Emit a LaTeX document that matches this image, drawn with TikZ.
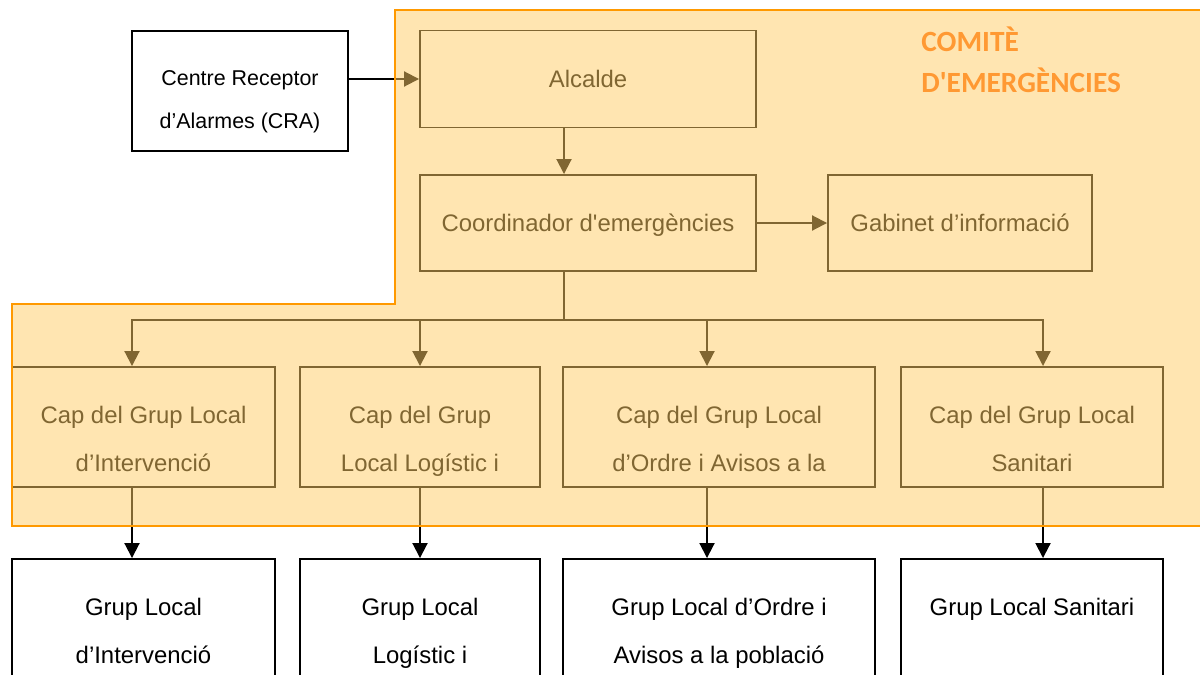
\documentclass[tikz,border=0pt]{standalone}
\usepackage{fontspec}
\setmainfont{Liberation Sans}
\newfontfamily\titlefont{Carlito}
\usetikzlibrary{positioning,calc,arrows.meta}
\definecolor{comfill}{RGB}{255,204,100}
\definecolor{comline}{RGB}{255,153,0}
\definecolor{comtext}{RGB}{255,153,51}

\begin{document}
\begin{tikzpicture}
    \tikzstyle{box}=[rectangle, draw, line width=1.1pt, inner sep=0pt, minimum height=2.4cm]
    \tikzstyle{txt}=[inner sep=0pt, align=center, font=\fontsize{13.6}{27.3}\selectfont]
    \tikzstyle{arr}=[line width=1.1pt, -{Triangle[length=0.3cm,width=0.3cm]}]

    \useasboundingbox (0,0) rectangle (24,-13.48);

    % top part
    \node[box, minimum width=4.32cm] (cra) at (4.8,-1.82) {};
    \node[box, minimum width=6.72cm, minimum height=1.94cm] (alc) at (11.76,-1.58) {};
    \node[box, minimum width=6.72cm, minimum height=1.92cm] (coord) at (11.76,-4.46) {};
    \node[box, minimum width=5.28cm, minimum height=1.92cm] (gab) at (19.2,-4.46) {};

    \node[txt, font=\fontsize{12.2}{24.5}\selectfont, below=0.8cm of cra.north] (tcra) {Centre Receptor\\d’Alarmes (CRA)};
    \node[txt, below=0.8cm of alc.north] (talc) {Alcalde};
    \node[txt, below=0.8cm of coord.north] (tcoord) {Coordinador d\textquotesingle emergències};
    \node[txt, below=0.8cm of gab.north] (tgab) {Gabinet d’informació};

    % caps
    \node[box, minimum width=5.26cm] (cap1) at (2.87,-8.54) {};
    \node[box, minimum width=4.8cm] (cap2) at (8.4,-8.54) {};
    \node[box, minimum width=6.24cm] (cap3) at (14.38,-8.54) {};
    \node[box, minimum width=5.24cm] (cap4) at (20.64,-8.54) {};

    \node[txt, below=0.79cm of cap1.north] (tcap1) {Cap del Grup Local\\d’Intervenció};
    \node[txt, below=0.79cm of cap2.north] (tcap2) {Cap del Grup\\Local Logístic i};
    \node[txt, below=0.79cm of cap3.north] (tcap3) {Cap del Grup Local\\d’Ordre i Avisos a la};
    \node[txt, below=0.79cm of cap4.north] (tcap4) {Cap del Grup Local\\Sanitari};

    % grups
    \node[box, minimum width=5.26cm] (grp1) at (2.87,-12.38) {};
    \node[box, minimum width=4.8cm] (grp2) at (8.4,-12.38) {};
    \node[box, minimum width=6.24cm] (grp3) at (14.38,-12.38) {};
    \node[box, minimum width=5.24cm] (grp4) at (20.64,-12.38) {};

    \node[txt, below=0.79cm of grp1.north] (tgrp1) {Grup Local\\d’Intervenció};
    \node[txt, below=0.79cm of grp2.north] (tgrp2) {Grup Local\\Logístic i};
    \node[txt, below=0.79cm of grp3.north] (tgrp3) {Grup Local d’Ordre i\\Avisos a la població};
    \node[txt, below=0.79cm of grp4.north] (tgrp4) {Grup Local Sanitari};

    % connectors
    \coordinate (bus) at (11.28,-6.4);
    \draw[arr] (alc.west -| cra.east) -- (alc.west);
    \draw[arr] ([xshift=-0.48cm]alc.south) -- ([xshift=-0.48cm]coord.north);
    \draw[arr] (coord.east) -- (gab.west);
    \draw[line width=1.1pt] ([xshift=-0.48cm]coord.south) -- (bus);
    \draw[arr] (bus) -| ([xshift=-0.23cm]cap1.north);
    \draw[arr] (bus) -| (cap2.north);
    \draw[arr] (bus) -| ([xshift=-0.24cm]cap3.north);
    \draw[arr] (bus) -| ([xshift=0.22cm]cap4.north);
    \draw[arr] ([xshift=-0.23cm]cap1.south) -- ([xshift=-0.23cm]grp1.north);
    \draw[arr] (cap2.south) -- (grp2.north);
    \draw[arr] ([xshift=-0.24cm]cap3.south) -- ([xshift=-0.24cm]grp3.north);
    \draw[arr] ([xshift=0.22cm]cap4.south) -- ([xshift=0.22cm]grp4.north);

    % comite area
    \fill[comfill, opacity=0.5] (7.9,-0.2) -- (24.2,-0.2) -- (24.2,-10.52) -- (0.24,-10.52) -- (0.24,-6.08) -- (7.9,-6.08) -- cycle;
    \draw[comline, line width=1.1pt] (7.9,-0.2) -- (24.2,-0.2) -- (24.2,-10.52) -- (0.24,-10.52) -- (0.24,-6.08) -- (7.9,-6.08) -- cycle;
    \node[inner sep=0pt, anchor=north west, align=left, text=comtext, font=\titlefont\bfseries\fontsize{16.7}{23.3}\selectfont] (title) at (18.42,-0.54) {COMITÈ\\D\textquotesingle EMERGÈNCIES};
\end{tikzpicture}
\end{document}
